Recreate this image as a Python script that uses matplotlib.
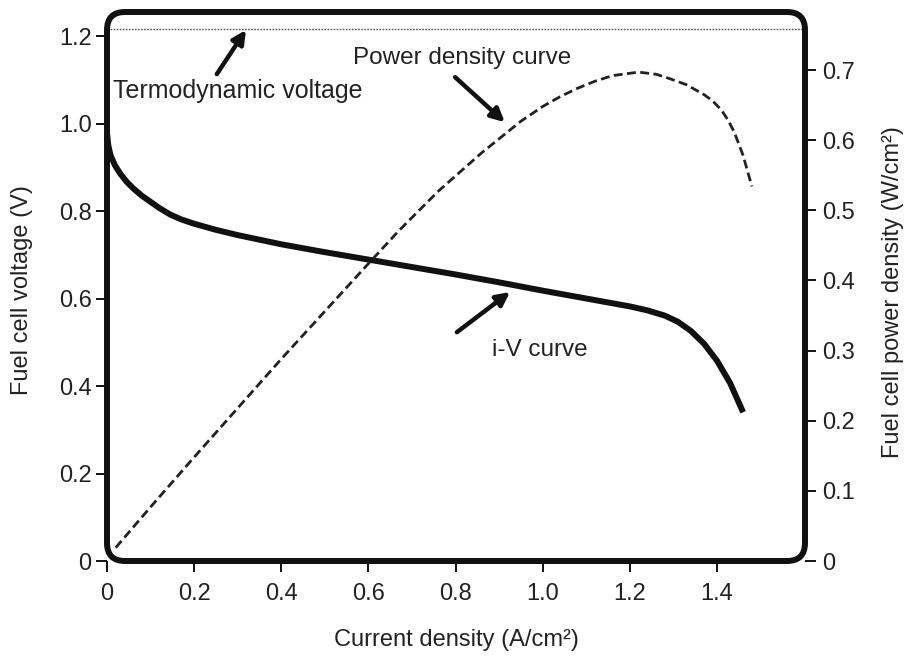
import matplotlib
matplotlib.use("Agg")
import matplotlib.pyplot as plt
from matplotlib.patches import FancyBboxPatch

plt.rcParams['font.family'] = ['Liberation Sans', 'DejaVu Sans']

# ---- data ----
iv_current = [0.0, 0.003, 0.008, 0.018, 0.03, 0.045, 0.06, 0.08, 0.1, 0.12,
              0.145, 0.17, 0.2, 0.25, 0.3, 0.4, 0.5, 0.6, 0.7, 0.8, 0.9, 1.0,
              1.1, 1.2, 1.24, 1.28, 1.31, 1.34, 1.37, 1.4, 1.43, 1.46]
iv_voltage = [0.978, 0.95, 0.928, 0.905, 0.886, 0.867, 0.852, 0.835, 0.821,
              0.807, 0.792, 0.781, 0.771, 0.757, 0.745, 0.724, 0.706, 0.689,
              0.672, 0.655, 0.637, 0.618, 0.600, 0.582, 0.573, 0.561, 0.547,
              0.526, 0.497, 0.458, 0.407, 0.34]

pd_current = [0.02, 0.1, 0.2, 0.3, 0.4, 0.5, 0.6, 0.67, 0.76, 0.86, 0.95, 1.0,
              1.04, 1.08, 1.12, 1.16, 1.22, 1.26, 1.29, 1.33, 1.37, 1.39, 1.41,
              1.425, 1.44, 1.46, 1.48]
pd_power = [0.019, 0.077, 0.148, 0.218, 0.288, 0.356, 0.424, 0.471, 0.527,
            0.582, 0.627, 0.648, 0.662, 0.674, 0.684, 0.692, 0.697, 0.694,
            0.688, 0.679, 0.665, 0.656, 0.643, 0.629, 0.611, 0.578, 0.534]

thermo_voltage = 1.217

x_ticks = [0, 0.2, 0.4, 0.6, 0.8, 1.0, 1.2, 1.4]
x_ticklabels = ['0', '0.2', '0.4', '0.6', '0.8', '1.0', '1.2', '1.4']
yl_ticks = [0, 0.2, 0.4, 0.6, 0.8, 1.0, 1.2]
yl_ticklabels = ['0', '0.2', '0.4', '0.6', '0.8', '1.0', '1.2']
yr_ticks = [0, 0.1, 0.2, 0.3, 0.4, 0.5, 0.6, 0.7]
yr_ticklabels = ['0', '0.1', '0.2', '0.3', '0.4', '0.5', '0.6', '0.7']

# ---- figure ----
W, H = 909, 660
fig = plt.figure(figsize=(W / 100, H / 100), dpi=100)
L, R, T, B = 107, 805, 12, 561
ax = fig.add_axes([L / W, 1 - B / H, (R - L) / W, (B - T) / H])
ax.set_xlim(0, 1.602)
ax.set_ylim(0, 1.255)

txt = '#222222'
for s in ax.spines.values():
    s.set_visible(False)

ax2 = ax.twinx()
ax2.set_ylim(0, 0.7827)
for s in ax2.spines.values():
    s.set_visible(False)

# rounded frame
aw, ah = R - L, B - T
rad = 18 / aw
frame = FancyBboxPatch((0, 0), 1, 1,
                       boxstyle=f"round,pad=0,rounding_size={rad}",
                       mutation_aspect=aw / ah,
                       transform=ax.transAxes, fill=False,
                       lw=4.3, ec='#111111', clip_on=False, zorder=5)
ax.add_patch(frame)

# ticks
ax.set_xticks(x_ticks)
ax.set_xticklabels(x_ticklabels)
ax.set_yticks(yl_ticks)
ax.set_yticklabels(yl_ticklabels)
ax2.set_yticks(yr_ticks)
ax2.set_yticklabels(yr_ticklabels)
for a in (ax, ax2):
    a.tick_params(direction='out', length=8, width=1.4, color='#111111',
                  labelsize=17, labelcolor=txt)
ax.tick_params(axis='x', pad=8)
ax.tick_params(axis='y', pad=3)
ax2.tick_params(axis='y', pad=4)

# thermodynamic line
ax.plot([0, 1.602], [thermo_voltage, thermo_voltage], ls=(0, (1.2, 1.0)),
        lw=1.0, color='#555555', zorder=3)

# i-V curve
ax.plot(iv_current, iv_voltage, color='#111111', lw=4.3,
        solid_capstyle='butt', solid_joinstyle='round', zorder=4)

# power density curve
ax2.plot(pd_current, pd_power, color='#222222', lw=2.0,
         ls=(0, (3.2, 1.6)), zorder=4)

# annotations
fs_ann = 17.5
arrow = dict(arrowstyle='-|>', lw=3.2, color='#111111', mutation_scale=20,
             shrinkA=0, shrinkB=0)
ax.annotate('', xy=(0.319, 1.214), xytext=(0.252, 1.113), arrowprops=arrow)
ax.text(0.014, 1.074, 'Termodynamic voltage', fontsize=18, color=txt,
        ha='left', va='center')

ax.annotate('', xy=(0.913, 1.003), xytext=(0.799, 1.106), arrowprops=arrow)
ax.text(0.815, 1.150, 'Power density curve', fontsize=fs_ann, color=txt,
        ha='center', va='center')

ax.annotate('', xy=(0.925, 0.615), xytext=(0.803, 0.523), arrowprops=arrow)
ax.text(0.994, 0.482, 'i-V curve', fontsize=fs_ann, color=txt,
        ha='center', va='center')

# axis labels
fig.text(22 / W, 1 - 290 / H, 'Fuel cell voltage (V)', rotation=90,
         fontsize=17, color=txt, ha='center', va='center')
fig.text(893 / W, 1 - 292 / H, 'Fuel cell power density (W/cm²)',
         rotation=90, fontsize=17, color=txt, ha='center', va='center')
fig.text(456 / W, 1 - 640 / H, 'Current density (A/cm²)',
         fontsize=17, color=txt, ha='center', va='center')

fig.savefig('out.png', dpi=100)
